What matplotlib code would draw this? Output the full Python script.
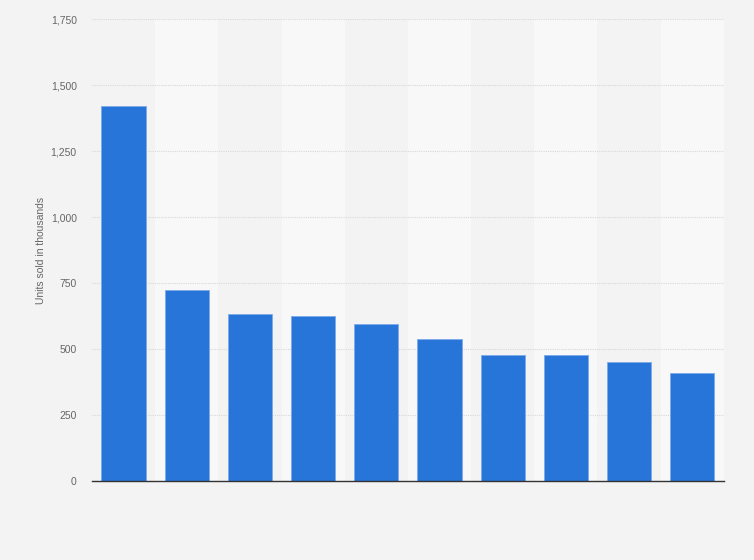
import matplotlib
matplotlib.use('Agg')
import matplotlib.pyplot as plt
from matplotlib.ticker import FuncFormatter

plt.rcParams['font.family'] = ['Liberation Sans', 'DejaVu Sans']

# Datos
categories = [str(i) for i in range(1, 11)]
units = [1420, 722, 631, 624, 593, 537, 477, 477, 450, 408]
yticks = [0, 250, 500, 750, 1000, 1250, 1500, 1750]

fig = plt.figure(figsize=(7.54, 5.60), dpi=100)
fig.patch.set_facecolor('#f3f3f3')
ax = fig.add_axes([0.122, 0.141, 0.838, 0.825])
ax.set_facecolor('#f3f3f3')

x = list(range(len(categories)))

# Bandas alternas de fondo
for i in x:
    if i % 2 == 1:
        ax.axvspan(i - 0.5, i + 0.5, color='#f8f8f8', zorder=0, lw=0)

ax.bar(x, units, width=0.7, color='#2775d9', edgecolor='#7eaaea', linewidth=0.6, zorder=3)

ax.set_xlim(-0.5, len(categories) - 0.5)
ax.set_ylim(0, 1750)
ax.set_yticks(yticks)
ax.yaxis.set_major_formatter(FuncFormatter(lambda v, p: f'{int(v):,}'))
ax.set_xticks([])
ax.grid(axis='y', color='#d8d8d8', linestyle=(0, (1, 1)), linewidth=0.8, zorder=1)
ax.tick_params(axis='y', length=0, labelsize=7.5, colors='#666666', pad=11)

for side in ['top', 'right', 'left']:
    ax.spines[side].set_visible(False)
ax.spines['bottom'].set_color('#333333')
ax.spines['bottom'].set_linewidth(1.0)
ax.spines['bottom'].set_zorder(4)

ax.set_ylabel('Units sold in thousands', fontsize=7.5, color='#666666')
ax.yaxis.set_label_coords(-0.072, 0.5)

fig.savefig('out.png', dpi=100, facecolor=fig.get_facecolor())
